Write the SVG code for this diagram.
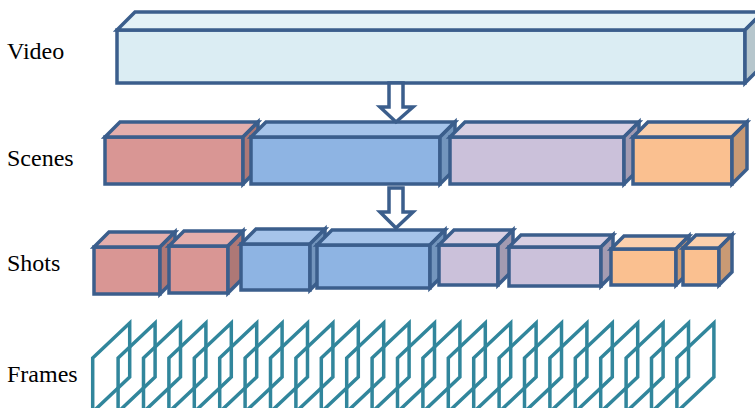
<svg xmlns="http://www.w3.org/2000/svg" xmlns:xlink="http://www.w3.org/1999/xlink" width="755" height="408" viewBox="0 0 755 408">
<style>
  .lbl { font-family: "Liberation Serif", "DejaVu Serif", "Times New Roman", serif; font-size: 24px; fill: #000; }
  .bx rect, .bx polygon { stroke: #3b5e8c; stroke-width: 3.5; stroke-linejoin: miter; }
  .vid .f { fill: #dbedf3; } .vid .t { fill: #e3f1f6; } .vid .s { fill: #b6c6cc; }
  .red .f { fill: #d99694; } .red .t { fill: #e4aeac; } .red .s { fill: #ae7876; }
  .blu .f { fill: #8eb4e3; } .blu .t { fill: #a6c4ea; } .blu .s { fill: #7395bd; }
  .pur .f { fill: #cbc1da; } .pur .t { fill: #d8d0e3; } .pur .s { fill: #a39bb1; }
  .org .f { fill: #fac090; } .org .t { fill: #fbd0ad; } .org .s { fill: #c99a74; }
  .arrow { fill: #ffffff; stroke: #3b5e8c; stroke-width: 3.5; stroke-linejoin: miter; }
  .frame { fill: none; stroke: #31869c; stroke-width: 3.5; stroke-linejoin: miter; }
</style>
<defs>
  <polygon id="frm" class="frame" points="0,358 37,323 37,377 0,412"/>
</defs>
<rect width="755" height="408" fill="#ffffff"/>

<g id="labels" font-family="Liberation Serif, DejaVu Serif, serif" font-size="24">
  <text class="lbl" x="7" y="59" font-family="Liberation Serif, serif">Video</text>
  <text class="lbl" x="7" y="166" font-family="Liberation Serif, serif">Scenes</text>
  <text class="lbl" x="7" y="271" font-family="Liberation Serif, serif">Shots</text>
  <text class="lbl" x="7" y="382" font-family="Liberation Serif, serif">Frames</text>
</g>

<g id="video" class="bx vid">
  <rect class="f" x="117" y="30" width="628" height="53"/>
  <polygon class="t" points="117,30 135,12 763,12 745,30"/>
  <polygon class="s" points="745,30 763,12 763,65 745,83"/>
</g>

<g id="scene1" class="bx red">
  <rect class="f" x="105" y="137" width="138" height="47"/>
  <polygon class="t" points="105,137 120,122 258,122 243,137"/>
  <polygon class="s" points="243,137 258,122 258,169 243,184"/>
</g>
<g id="scene2" class="bx blu">
  <rect class="f" x="251" y="137" width="189" height="47"/>
  <polygon class="t" points="251,137 266,122 455,122 440,137"/>
  <polygon class="s" points="440,137 455,122 455,169 440,184"/>
</g>
<g id="scene3" class="bx pur">
  <rect class="f" x="450" y="137" width="174" height="47"/>
  <polygon class="t" points="450,137 465,122 639,122 624,137"/>
  <polygon class="s" points="624,137 639,122 639,169 624,184"/>
</g>
<g id="scene4" class="bx org">
  <rect class="f" x="633" y="137" width="99" height="47"/>
  <polygon class="t" points="633,137 648,122 747,122 732,137"/>
  <polygon class="s" points="732,137 747,122 747,169 732,184"/>
</g>

<g id="shot1" class="bx red">
  <rect class="f" x="94" y="247" width="66" height="47"/>
  <polygon class="t" points="94,247 109,232 175,232 160,247"/>
  <polygon class="s" points="160,247 175,232 175,279 160,294"/>
</g>
<g id="shot2" class="bx red">
  <rect class="f" x="169" y="246" width="59" height="47"/>
  <polygon class="t" points="169,246 184,231 243,231 228,246"/>
  <polygon class="s" points="228,246 243,231 243,278 228,293"/>
</g>
<g id="shot3" class="bx blu">
  <rect class="f" x="241" y="244" width="69" height="46"/>
  <polygon class="t" points="241,244 256,229 325,229 310,244"/>
  <polygon class="s" points="310,244 325,229 325,275 310,290"/>
</g>
<g id="shot4" class="bx blu">
  <rect class="f" x="317" y="245" width="113" height="43"/>
  <polygon class="t" points="317,245 332,230 445,230 430,245"/>
  <polygon class="s" points="430,245 445,230 445,273 430,288"/>
</g>
<g id="shot5" class="bx pur">
  <rect class="f" x="439" y="245" width="59" height="40"/>
  <polygon class="t" points="439,245 454,230 513,230 498,245"/>
  <polygon class="s" points="498,245 513,230 513,270 498,285"/>
</g>
<g id="shot6" class="bx pur">
  <rect class="f" x="509" y="247" width="92" height="39"/>
  <polygon class="t" points="509,247 521,235 613,235 601,247"/>
  <polygon class="s" points="601,247 613,235 613,274 601,286"/>
</g>
<g id="shot7" class="bx org">
  <rect class="f" x="611" y="249" width="65" height="36"/>
  <polygon class="t" points="611,249 624,236 689,236 676,249"/>
  <polygon class="s" points="676,249 689,236 689,272 676,285"/>
</g>
<g id="shot8" class="bx org">
  <rect class="f" x="683" y="248" width="36" height="37"/>
  <polygon class="t" points="683,248 696,235 732,235 719,248"/>
  <polygon class="s" points="719,248 732,235 732,272 719,285"/>
</g>

<g id="frames">
  <use xlink:href="#frm" x="92.7"/>
  <use xlink:href="#frm" x="118.1"/>
  <use xlink:href="#frm" x="143.5"/>
  <use xlink:href="#frm" x="168.9"/>
  <use xlink:href="#frm" x="194.3"/>
  <use xlink:href="#frm" x="219.7"/>
  <use xlink:href="#frm" x="245.1"/>
  <use xlink:href="#frm" x="270.5"/>
  <use xlink:href="#frm" x="295.9"/>
  <use xlink:href="#frm" x="321.3"/>
  <use xlink:href="#frm" x="346.7"/>
  <use xlink:href="#frm" x="372.1"/>
  <use xlink:href="#frm" x="397.5"/>
  <use xlink:href="#frm" x="422.9"/>
  <use xlink:href="#frm" x="448.3"/>
  <use xlink:href="#frm" x="473.7"/>
  <use xlink:href="#frm" x="499.1"/>
  <use xlink:href="#frm" x="524.5"/>
  <use xlink:href="#frm" x="549.9"/>
  <use xlink:href="#frm" x="575.3"/>
  <use xlink:href="#frm" x="600.7"/>
  <use xlink:href="#frm" x="626.1"/>
  <use xlink:href="#frm" x="651.5"/>
  <use xlink:href="#frm" x="676.9"/>
</g>

<g id="connectors">
  <polygon class="arrow" points="389,83 403,83 403,107 413,107 396,122 380,107 389,107"/>
  <polygon class="arrow" points="389,188 403,188 403,212 413,212 396,228 380,212 389,212"/>
</g>
</svg>
